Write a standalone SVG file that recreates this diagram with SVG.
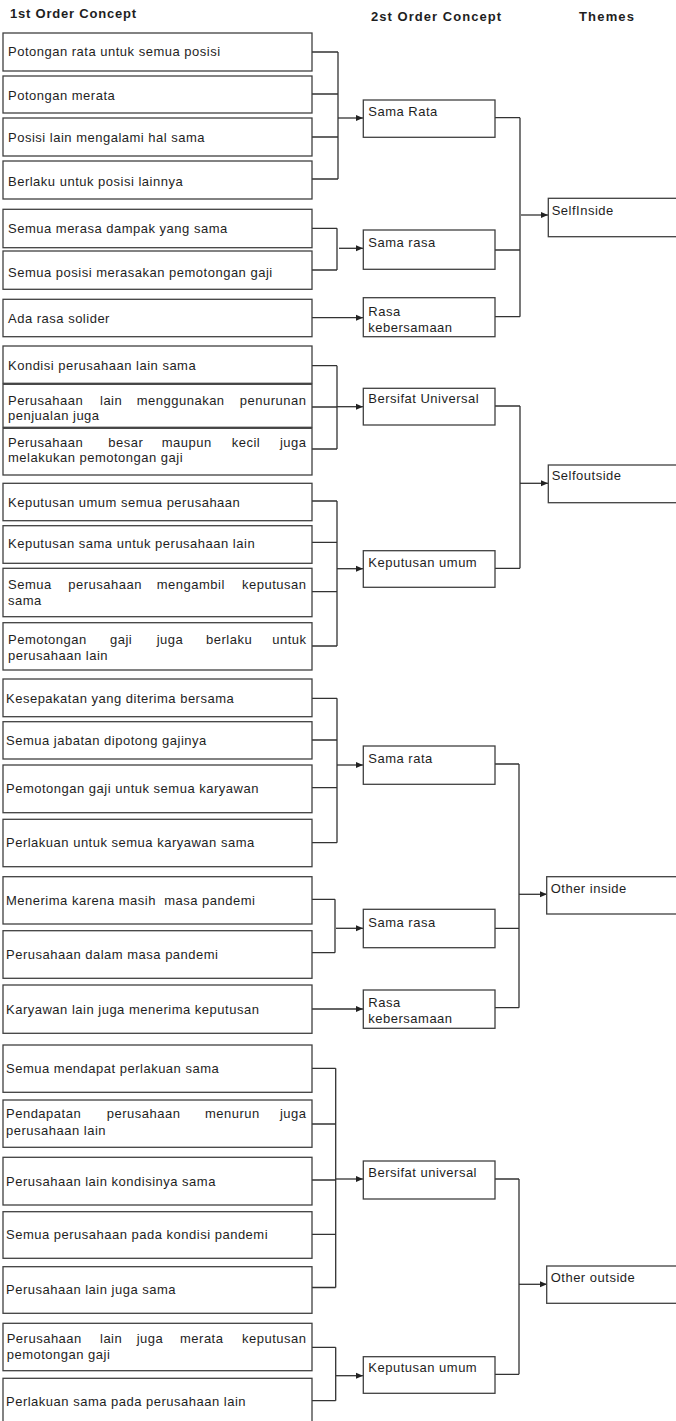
<svg xmlns="http://www.w3.org/2000/svg" width="676" height="1421" viewBox="0 0 676 1421">
  <style>
    .box { fill: #ffffff; stroke: #404040; stroke-width: 1.3; }
    .t { font-family: "Liberation Sans", Arial, sans-serif; font-size: 13px; letter-spacing: 0.5px; fill: #1e1e1e; white-space: pre; }
    .h { font-family: "Liberation Sans", Arial, sans-serif; font-size: 13px; font-weight: bold; fill: #1e1e1e; }
    .ln { fill: none; stroke: #333333; stroke-width: 1.3; }
    .end { text-anchor: end; }
  </style>
  <defs>
    <marker id="arrow" markerUnits="userSpaceOnUse" markerWidth="8" markerHeight="8" refX="7" refY="4" orient="auto">
      <path d="M0,1 L7,4 L0,7 Z" fill="#222222"/>
    </marker>
  </defs>
  <rect width="676" height="1421" fill="#ffffff"/>

  <!-- column headers -->
  <g id="headers">
    <text class="h" x="10" y="18" textLength="126" lengthAdjust="spacing">1st Order Concept</text>
    <text class="h" x="371" y="21" textLength="130" lengthAdjust="spacing">2st Order Concept</text>
    <text class="h" x="579" y="21" textLength="55" lengthAdjust="spacing">Themes</text>
  </g>

  <!-- connectors: brackets and arrows -->
  <g id="connectors">
    <!-- Sama Rata -->
    <path class="ln" d="M312,52 H338 M312,94 H338 M312,137 H338 M312,179 H338 M338,52 V179"/>
    <line class="ln" x1="338" y1="118" x2="363" y2="118" marker-end="url(#arrow)"/>
    <!-- Sama rasa -->
    <path class="ln" d="M312,228.3 H337 M312,270 H337 M337,228.3 V270"/>
    <line class="ln" x1="339" y1="248.3" x2="363" y2="248.3" marker-end="url(#arrow)"/>
    <!-- Rasa kebersamaan -->
    <line class="ln" x1="312" y1="317.7" x2="363" y2="317.7" marker-end="url(#arrow)"/>
    <!-- to SelfInside -->
    <path class="ln" d="M495,117.7 H520 M495,250 H520 M495,316.7 H520 M520,117.7 V316.7"/>
    <line class="ln" x1="521" y1="215" x2="548" y2="215" marker-end="url(#arrow)"/>

    <!-- Bersifat Universal -->
    <path class="ln" d="M312,365.7 H337 M312,407 H337 M312,449 H337 M337,365.7 V449"/>
    <line class="ln" x1="337" y1="406.7" x2="363" y2="406.7" marker-end="url(#arrow)"/>
    <!-- Keputusan umum -->
    <path class="ln" d="M312,501 H337 M312,542.3 H337 M312,591.7 H337 M312,646 H337 M337,501 V646"/>
    <line class="ln" x1="337" y1="568.7" x2="363" y2="568.7" marker-end="url(#arrow)"/>
    <!-- to Selfoutside -->
    <path class="ln" d="M495,406 H520 M495,568.3 H520 M520,406 V568.3"/>
    <line class="ln" x1="520" y1="483.3" x2="548" y2="483.3" marker-end="url(#arrow)"/>

    <!-- Sama rata -->
    <path class="ln" d="M312,698.3 H337 M312,740 H337 M312,787.7 H337 M312,842.7 H337 M337,698.3 V842.7"/>
    <line class="ln" x1="337" y1="765" x2="363" y2="765" marker-end="url(#arrow)"/>
    <!-- Sama rasa -->
    <path class="ln" d="M310,899.3 H335 M310,952.7 H335 M335,899.3 V952.7"/>
    <line class="ln" x1="336" y1="928.3" x2="363" y2="928.3" marker-end="url(#arrow)"/>
    <!-- Rasa kebersamaan -->
    <line class="ln" x1="312" y1="1009" x2="363" y2="1009" marker-end="url(#arrow)"/>
    <!-- to Other inside -->
    <path class="ln" d="M495,764 H519 M495,928.3 H519 M495,1007.7 H519 M519,764 V1007.7"/>
    <line class="ln" x1="519" y1="894.3" x2="547" y2="894.3" marker-end="url(#arrow)"/>

    <!-- Bersifat universal -->
    <path class="ln" d="M310,1068.3 H335.7 M310,1124 H335.7 M310,1180 H335.7 M310,1234.3 H335.7 M310,1287.5 H335.7 M335.7,1068.3 V1287.5"/>
    <line class="ln" x1="336" y1="1179" x2="363" y2="1179" marker-end="url(#arrow)"/>
    <!-- Keputusan umum -->
    <path class="ln" d="M310,1347.3 H335.7 M310,1400.7 H335.7 M335.7,1347.3 V1400.7"/>
    <line class="ln" x1="336" y1="1375.7" x2="363" y2="1375.7" marker-end="url(#arrow)"/>
    <!-- to Other outside -->
    <path class="ln" d="M495,1179 H519 M495,1374.3 H519 M519,1179 V1374.3"/>
    <line class="ln" x1="519" y1="1284.3" x2="547" y2="1284.3" marker-end="url(#arrow)"/>
  </g>

  <!-- 1st order concepts -->
  <g id="c1"><rect class="box" x="3" y="33" width="309" height="38"/><text class="t" x="8" y="56">Potongan rata untuk semua posisi</text></g>
  <g id="c2"><rect class="box" x="3" y="76" width="309" height="37"/><text class="t" x="8" y="99.5">Potongan merata</text></g>
  <g id="c3"><rect class="box" x="3" y="118" width="309" height="38"/><text class="t" x="8" y="142">Posisi lain mengalami hal sama</text></g>
  <g id="c4"><rect class="box" x="3" y="161" width="309" height="38"/><text class="t" x="8" y="186">Berlaku untuk posisi lainnya</text></g>
  <g id="c5"><rect class="box" x="3" y="209.3" width="309" height="38.4"/><text class="t" x="8" y="233">Semua merasa dampak yang sama</text></g>
  <g id="c6"><rect class="box" x="3" y="251" width="309" height="38.3"/><text class="t" x="8" y="277">Semua posisi merasakan pemotongan gaji</text></g>
  <g id="c7"><rect class="box" x="3" y="299.3" width="309" height="37.4"/><text class="t" x="8" y="323">Ada rasa solider</text></g>

  <g id="c8"><rect class="box" x="3" y="346" width="309" height="37.3"/><text class="t" x="8" y="370">Kondisi perusahaan lain sama</text></g>
  <g id="c9"><rect class="box" x="3" y="384.3" width="309" height="43"/>
    <text class="t" y="405"><tspan x="8">Perusahaan</tspan><tspan x="100">lain</tspan><tspan x="136.7">menggunakan</tspan><tspan x="306.5" class="end">penurunan</tspan></text>
    <text class="t" x="8" y="420">penjualan juga</text></g>
  <g id="c10"><rect class="box" x="3" y="428.3" width="309" height="46.7"/>
    <text class="t" y="447"><tspan x="8">Perusahaan</tspan><tspan x="108.3">besar</tspan><tspan x="161.7">maupun</tspan><tspan x="231.7">kecil</tspan><tspan x="306.5" class="end">juga</tspan></text>
    <text class="t" x="8" y="462">melakukan pemotongan gaji</text></g>
  <g id="c11"><rect class="box" x="3" y="483.3" width="309" height="37.4"/><text class="t" x="8" y="506.7">Keputusan umum semua perusahaan</text></g>
  <g id="c12"><rect class="box" x="3" y="525.7" width="309" height="37.6"/><text class="t" x="8" y="548.3">Keputusan sama untuk perusahaan lain</text></g>
  <g id="c13"><rect class="box" x="3" y="568.3" width="309" height="48.4"/>
    <text class="t" y="589.3"><tspan x="8">Semua</tspan><tspan x="68.3">perusahaan</tspan><tspan x="156.7">mengambil</tspan><tspan x="306.5" class="end">keputusan</tspan></text>
    <text class="t" x="8" y="605">sama</text></g>
  <g id="c14"><rect class="box" x="3" y="622.7" width="309" height="47.3"/>
    <text class="t" y="644"><tspan x="8">Pemotongan</tspan><tspan x="110">gaji</tspan><tspan x="156.7">juga</tspan><tspan x="206">berlaku</tspan><tspan x="306.5" class="end">untuk</tspan></text>
    <text class="t" x="8" y="660">perusahaan lain</text></g>

  <g id="c15"><rect class="box" x="3" y="679" width="309" height="37.7"/><text class="t" x="6" y="703.3">Kesepakatan yang diterima bersama</text></g>
  <g id="c16"><rect class="box" x="3" y="721.7" width="309" height="37.3"/><text class="t" x="6" y="745">Semua jabatan dipotong gajinya</text></g>
  <g id="c17"><rect class="box" x="3" y="765" width="309" height="47.7"/><text class="t" x="6" y="793.3">Pemotongan gaji untuk semua karyawan</text></g>
  <g id="c18"><rect class="box" x="3" y="819.3" width="309" height="47.4"/><text class="t" x="6" y="847.3">Perlakuan untuk semua karyawan sama</text></g>
  <g id="c19"><rect class="box" x="3" y="876.7" width="309" height="47.3"/><text class="t" x="6" y="905" xml:space="preserve">Menerima karena masih  masa pandemi</text></g>
  <g id="c20"><rect class="box" x="3" y="930.7" width="309" height="47.6"/><text class="t" x="6" y="959.3">Perusahaan dalam masa pandemi</text></g>
  <g id="c21"><rect class="box" x="3" y="985" width="309" height="48.3"/><text class="t" x="6" y="1014">Karyawan lain juga menerima keputusan</text></g>

  <g id="c22"><rect class="box" x="3" y="1045" width="309" height="47.3"/><text class="t" x="6" y="1073.3">Semua mendapat perlakuan sama</text></g>
  <g id="c23"><rect class="box" x="3" y="1100" width="309" height="47.3"/>
    <text class="t" y="1118.3"><tspan x="6">Pendapatan</tspan><tspan x="106.7">perusahaan</tspan><tspan x="205">menurun</tspan><tspan x="306.5" class="end">juga</tspan></text>
    <text class="t" x="6" y="1135">perusahaan lain</text></g>
  <g id="c24"><rect class="box" x="3" y="1157.3" width="309" height="47.7"/><text class="t" x="6" y="1185.7">Perusahaan lain kondisinya sama</text></g>
  <g id="c25"><rect class="box" x="3" y="1211.7" width="309" height="46.6"/><text class="t" x="6" y="1239.3">Semua perusahaan pada kondisi pandemi</text></g>
  <g id="c26"><rect class="box" x="3" y="1266.7" width="309" height="46.6"/><text class="t" x="6" y="1294.3">Perusahaan lain juga sama</text></g>
  <g id="c27"><rect class="box" x="3" y="1323.3" width="309" height="47.4"/>
    <text class="t" y="1343.3"><tspan x="6.7">Perusahaan</tspan><tspan x="100">lain</tspan><tspan x="136.7">juga</tspan><tspan x="180">merata</tspan><tspan x="306.5" class="end">keputusan</tspan></text>
    <text class="t" x="6.7" y="1359.3">pemotongan gaji</text></g>
  <g id="c28"><rect class="box" x="3" y="1378.3" width="309" height="48"/><text class="t" x="6" y="1406">Perlakuan sama pada perusahaan lain</text></g>

  <!-- 2nd order concepts -->
  <g id="s1"><rect class="box" x="363.3" y="100" width="131.7" height="37.3"/><text class="t" x="368.3" y="116">Sama Rata</text></g>
  <g id="s2"><rect class="box" x="363.3" y="230" width="131.7" height="39.3"/><text class="t" x="368.3" y="247.3">Sama rasa</text></g>
  <g id="s3"><rect class="box" x="363.3" y="297.7" width="131.7" height="39"/><text class="t" x="368.3" y="316">Rasa</text><text class="t" x="368.3" y="331.7">kebersamaan</text></g>
  <g id="s4"><rect class="box" x="363.3" y="388.3" width="131.7" height="36.7"/><text class="t" x="368.3" y="403.3">Bersifat Universal</text></g>
  <g id="s5"><rect class="box" x="363.3" y="550.7" width="131.7" height="36.6"/><text class="t" x="368.3" y="566.7">Keputusan umum</text></g>
  <g id="s6"><rect class="box" x="363.3" y="746" width="131.7" height="38.3"/><text class="t" x="368.3" y="763.3">Sama rata</text></g>
  <g id="s7"><rect class="box" x="363.3" y="909.3" width="131.7" height="38.4"/><text class="t" x="368.3" y="927.3">Sama rasa</text></g>
  <g id="s8"><rect class="box" x="363.3" y="990" width="131.7" height="38.3"/><text class="t" x="368.3" y="1006.7">Rasa</text><text class="t" x="368.3" y="1022.7">kebersamaan</text></g>
  <g id="s9"><rect class="box" x="363.3" y="1161" width="131.7" height="38"/><text class="t" x="368.3" y="1177.3">Bersifat universal</text></g>
  <g id="s10"><rect class="box" x="363.3" y="1356.7" width="131.7" height="36.6"/><text class="t" x="368.3" y="1371.7">Keputusan umum</text></g>

  <!-- themes -->
  <g id="th1"><rect class="box" x="548.3" y="198.3" width="140" height="38.4"/><text class="t" x="551.7" y="215">SelfInside</text></g>
  <g id="th2"><rect class="box" x="548.3" y="465" width="140" height="37.7"/><text class="t" x="551.7" y="480">Selfoutside</text></g>
  <g id="th3"><rect class="box" x="546.7" y="876.7" width="140" height="37.3"/><text class="t" x="550.7" y="892.7">Other inside</text></g>
  <g id="th4"><rect class="box" x="546.7" y="1266" width="140" height="37.3"/><text class="t" x="550.7" y="1281.7">Other outside</text></g>
</svg>
